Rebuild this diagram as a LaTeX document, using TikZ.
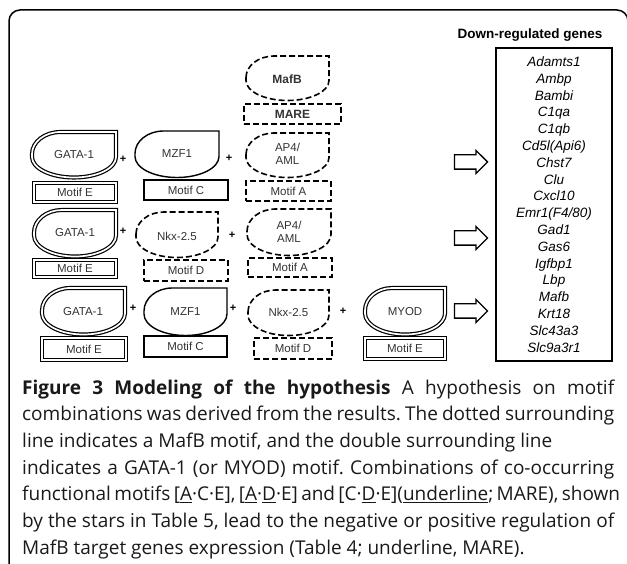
\documentclass[tikz,border=0pt]{standalone}
\usepackage{fontspec}
\setsansfont{Liberation Sans}
\newfontfamily\capfont{Open Sans}
\usepackage{tikz}
\usetikzlibrary{shapes.arrows, positioning}
\frenchspacing

% outline of a motif factor: round bottom, square top-right corner
\newcommand{\dropshape}[5]{%
  \pgfmathsetmacro{\dcy}{(#3+#5)/2}%
  \pgfmathsetmacro{\drx}{(#4-#2)/2}%
  \pgfmathsetmacro{\dry}{(#5-#3)/2}%
  \pgfmathsetmacro{\dqx}{0.34*(#4-#2)}%
  \draw[#1] (#2,\dcy) arc[start angle=180, end angle=270, x radius=\dqx, y radius=\dry]
    -- (#4,#3) -- (#4,\dcy+3)
    arc[start angle=0, end angle=180, x radius=\drx, y radius=\dry-1.5] -- cycle;
}

\begin{document}
\begin{tikzpicture}[x=1pt, y=-1pt,
  lbl/.style={font=\sffamily\fontsize{11.5}{12.5}\selectfont, text=black!80,
              align=center, inner sep=0pt},
  solidline/.style={draw, line width=1.4pt},
  dashline/.style={draw, line width=1.6pt, dash pattern=on 6pt off 3pt},
  dblline/.style={draw, double, double distance=1.7pt, line width=1.2pt},
  plus/.style={font=\sffamily\bfseries\fontsize{11}{11}\selectfont, inner sep=0pt},
  blockarrow/.style={single arrow, draw, line width=1.3pt, minimum height=33pt,
                     inner xsep=0pt, inner ysep=6.5pt, text height=0pt, text depth=0pt,
                     single arrow head extend=4.5pt},
  genebox/.style={draw, line width=1.5pt, minimum width=116pt, minimum height=313pt,
                  align=center, inner sep=0pt,
                  font=\sffamily\itshape\fontsize{13.5}{16.8}\selectfont},
  caption/.style={anchor=base west, inner sep=0pt, text=black!90,
                  font=\capfont\fontsize{19}{21}\selectfont}
]
\useasboundingbox (0,0) rectangle (627,564);

% frame
\draw[line width=1.5pt, rounded corners=11pt] (9,600) -- (9,10) -- (628,10) -- (628,600);

% MafB / MARE on top
\dropshape{dashline}{246}{56}{329}{99}
\node[lbl, font=\sffamily\bfseries\fontsize{12}{13}\selectfont] (mafb) at (287,79) {MafB};
\node[lbl, dashline, font=\sffamily\bfseries\fontsize{12}{13}\selectfont,
      minimum width=97pt, minimum height=20pt] (mare) at (292.5,114) {MARE};

% row 1
\dropshape{dblline}{32}{132}{116}{176}
\node[lbl] (gata1) at (74,155) {GATA-1};
\node[lbl, dblline, minimum width=82pt, minimum height=19pt] (motifE1) at (75,192.5) {Motif E};
\node[plus] (p11) at (123,159) {+};
\dropshape{solidline}{135}{131}{219}{176}
\node[lbl] (mzf1) at (177,154) {MZF1};
\node[lbl, solidline, minimum width=84pt, minimum height=20pt] (motifC1) at (186,190) {Motif C};
\node[plus] (p12) at (229,158) {+};
\dropshape{dashline}{246}{133}{329}{176}
\node[lbl] (ap41) at (287.5,154) {AP4/\\AML};
\node[lbl, dashline, minimum width=85pt, minimum height=20pt] (motifA1) at (288.5,191) {Motif A};

% row 2
\dropshape{dblline}{34}{210}{116}{255}
\node[lbl] (gata2) at (75,233) {GATA-1};
\node[lbl, dblline, minimum width=82pt, minimum height=17pt] (motifE2) at (75,268.5) {Motif E};
\node[plus] (p21) at (123,231) {+};
\dropshape{dashline}{136}{212}{218}{256}
\node[lbl] (nkx2) at (177,236) {Nkx-2.5};
\node[lbl, dashline, minimum width=84pt, minimum height=21pt] (motifD2) at (186,270.5) {Motif D};
\node[plus] (p22) at (232,235) {+};
\dropshape{dashline}{247}{209}{331}{254}
\node[lbl] (ap42) at (289,232) {AP4/\\AML};
\node[lbl, dashline, minimum width=84pt, minimum height=19pt] (motifA2) at (290,267.5) {Motif A};

% row 3
\dropshape{dblline}{42}{288}{125}{333}
\node[lbl] (gata3) at (83,312) {GATA-1};
\node[lbl, dblline, minimum width=84pt, minimum height=22pt] (motifE3) at (84,349) {Motif E};
\node[plus] (p31) at (133,308) {+};
\dropshape{solidline}{144}{288}{227}{334}
\node[lbl] (mzf3) at (185.5,312) {MZF1};
\node[lbl, solidline, minimum width=83pt, minimum height=21pt] (motifC3) at (185.5,346.5) {Motif C};
\node[plus] (p32) at (233,308) {+};
\dropshape{dashline}{248}{290}{329}{334}
\node[lbl] (nkx3) at (288.5,312) {Nkx-2.5};
\node[lbl, dashline, minimum width=78pt, minimum height=21pt] (motifD3) at (293,348.5) {Motif D};
\node[plus] (p33) at (343,311) {+};
\dropshape{dblline}{365}{288}{445}{333}
\node[lbl] (myod3) at (405,312) {MYOD};
\node[lbl, dblline, minimum width=80pt, minimum height=21pt] (motifE4) at (405,348.5) {Motif E};

% arrows to the gene list
\node[blockarrow] (arr1) at (467.5,162) {};
\node[blockarrow] (arr2) at (467.5,238) {};
\node[blockarrow] (arr3) at (467.5,311) {};

% down-regulated genes
\node[font=\sffamily\bfseries\fontsize{13.5}{15}\selectfont, inner sep=0pt] (head) at (530,35) {Down-regulated genes};
\node[genebox] (genes) at (554,204.5) {Adamts1\\Ambp\\Bambi\\C1qa\\C1qb\\Cd5l(Api6)\\Chst7\\Clu\\Cxcl10\\
  Emr1(F4/80)\\Gad1\\Gas6\\Igfbp1\\Lbp\\Mafb\\Krt18\\Slc43a3\\Slc9a3r1};

% caption
\node[caption] (cap1) at (22,394) {\makebox[592pt][s]{\textbf{Figure 3 Modeling of the hypothesis} A hypothesis on motif}};
\node[caption] (cap2) at (22,420.7) {\makebox[592pt][s]{combinations was derived from the results. The dotted surrounding}};
\node[caption] (cap3) at (22,447.4) {line indicates a MafB motif, and the double surrounding line};
\node[caption] (cap4) at (22,474.1) {\makebox[592pt][s]{indicates a GATA-1 (or MYOD) motif. Combinations of co-occurring}};
\node[caption] (cap5) at (22,500.8) {\makebox[592pt][s]{functional motifs [\underline{A}·C·E], [\underline{A}·\underline{D}·E] and [C·\underline{D}·E](\underline{underline}; MARE), shown}};
\node[caption] (cap6) at (22,527.5) {\makebox[592pt][s]{by the stars in Table 5, lead to the negative or positive regulation of}};
\node[caption] (cap7) at (22,554.2) {MafB target genes expression (Table 4; underline, MARE).};

\end{tikzpicture}
\end{document}
